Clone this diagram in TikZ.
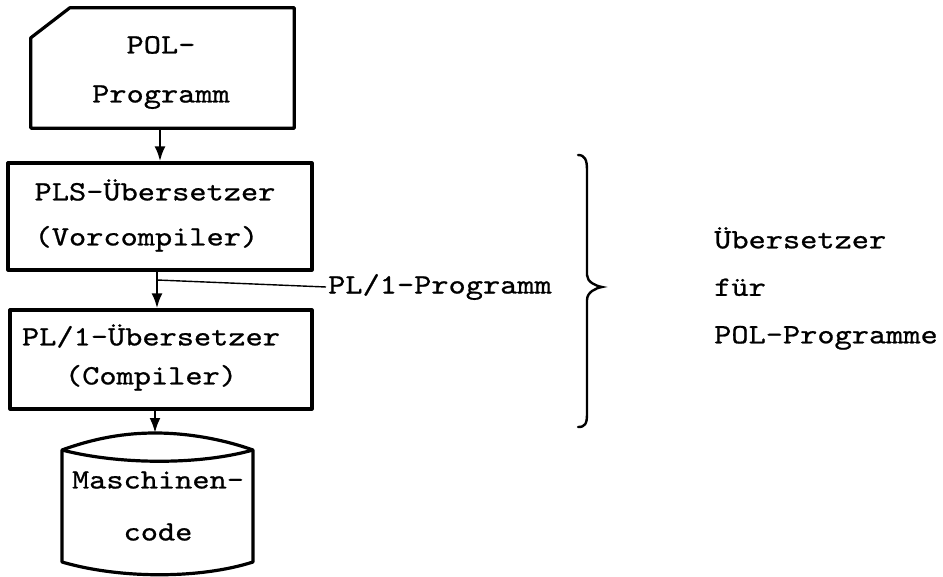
\documentclass[tikz,border=0pt]{standalone}
\usepackage{fontspec}
\newfontfamily\tw{lmmono10-regular}[Extension=.otf,FakeStretch=1.17,FakeBold=0.8]
\usetikzlibrary{arrows.meta}
\begin{document}
\begin{tikzpicture}[x=1pt,y=-1pt,
  boxline/.style={line width=3.2pt, line join=round},
  box/.style={boxline, draw, rectangle, inner sep=0pt},
  txt/.style={font=\tw\fontsize{28}{48}\selectfont, inner sep=2pt},
  arr/.style={line width=2.6pt, -{Latex[length=15pt,width=11pt]}},
  branch/.style={line width=1.4pt}]
\useasboundingbox[fill=white] (0,0) rectangle (943,577);

% card: POL-Programm
\node[minimum width=263pt, minimum height=120pt, inner sep=0pt] (card) at (162.5,68) {};
\draw[boxline] ([yshift=-30pt]card.north west) -- ([xshift=39pt]card.north west)
  -- (card.north east) -- (card.south east) -- (card.south west) -- cycle;
\node[txt, align=center, font=\tw\fontsize{28}{49}\selectfont] (cardtext) at (161,72.5) {POL-\\Programm};

% box 1
\node[box, minimum width=304pt, minimum height=107pt] (pls) at (160,216.5) {};
\node[txt, align=left, font=\tw\fontsize{28}{45}\selectfont] (plstext) at (155,215.5) {PLS-Übersetzer\\(Vorcompiler)};

% box 2
\node[box, minimum width=302pt, minimum height=99pt] (plc) at (161,359.5) {};
\node[txt, align=center, font=\tw\fontsize{28}{39}\selectfont] (plctext) at (151,357.5) {PL/1-Übersetzer\\(Compiler)};

% cylinder
\coordinate (cyltop) at (155,433);
\draw[boxline] (62,450) .. controls (95,438) and (125,433) .. (cyltop)
  .. controls (190,433) and (225,440) .. (253,450) -- (253,562)
  .. controls (200,579) and (120,579) .. (62,562) -- cycle;
\draw[boxline] (62,450) .. controls (120,465) and (200,465) .. (253,450);
\node[txt, align=center, font=\tw\fontsize{28}{52}\selectfont] (mc) at (158,506) {Maschinen-\\code};

% arrows
\draw[arr] (card.south -| pls.north) -- (pls.north);
\draw[arr] ([xshift=-3pt]pls.south) -- ([xshift=-3pt]pls.south |- plc.north);
\draw[arr] ([xshift=-6pt]plc.south) -- (cyltop);

% branch label
\coordinate (br) at (157,280);
\node[txt, anchor=west] (plprog) at (326,287) {PL/1-Programm};
\draw[branch] (br) -- (plprog.west);

% brace
\draw[line width=2.4pt, line cap=round] (578,155) .. controls (585,155) and (587,160) .. (587,170)
  -- (587,275) .. controls (587,282) and (596,286) .. (602,287)
  .. controls (596,288) and (587,292) .. (587,300)
  -- (587,414) .. controls (587,424) and (585,427) .. (578,427);

% right text
\node[txt, anchor=west, align=left, font=\tw\fontsize{28}{47.5}\selectfont] (rt) at (712,288.5) {Übersetzer\\für\\POL-Programme};
\end{tikzpicture}
\end{document}
